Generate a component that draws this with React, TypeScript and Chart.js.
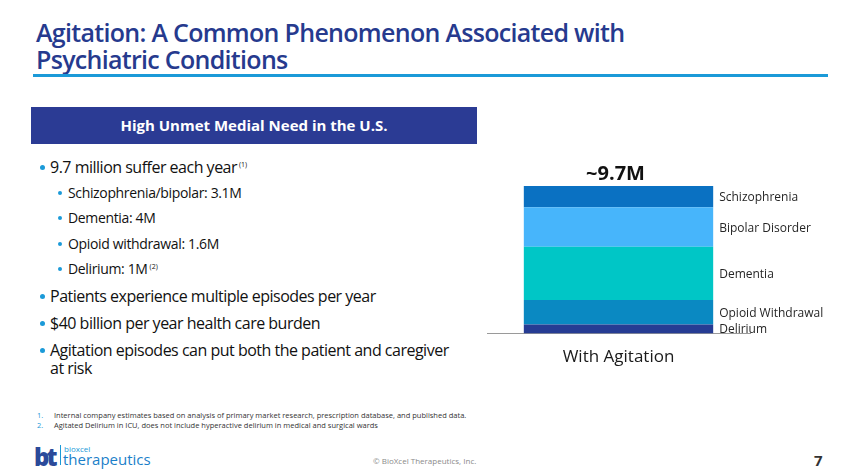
import React, { useEffect, useRef } from "react";
import { Chart, registerables } from "chart.js";

Chart.register(...registerables);

// ---- data ----
const categories = ["With Agitation"];
const seriesNames = ["Delirium", "Opioid Withdrawal", "Dementia", "Bipolar Disorder", "Schizophrenia"];
const delirium = [0.6];
const opioidWithdrawal = [1.6];
const dementia = [3.5];
const bipolarDisorder = [2.6];
const schizophrenia = [1.4];
const totalLabel = "~9.7M";
const yMax = 9.7;
const seriesColors = ["#263c93", "#0a89c2", "#00c6c6", "#47b5fb", "#0a71c2"];

const FONT = "'Open Sans', 'Noto Sans', sans-serif";

const segLabelPlugin = {
  id: "segLabels",
  afterDatasetsDraw(chart: any) {
    const ctx = chart.ctx;
    ctx.save();
    ctx.font = `12px ${FONT}`;
    ctx.fillStyle = "#262626";
    ctx.textAlign = "left";
    ctx.textBaseline = "middle";
    chart.data.datasets.forEach((ds: any, i: number) => {
      const el = chart.getDatasetMeta(i).data[0];
      if (!el) return;
      const p = el.getProps(["x", "y", "base", "width"], true);
      ctx.fillText(ds.label, p.x + p.width / 2 + 6, (p.y + p.base) / 2 + 1);
    });
    const top = chart.getDatasetMeta(chart.data.datasets.length - 1).data[0];
    if (top) {
      ctx.font = `bold 20px ${FONT}`;
      ctx.fillStyle = "#111";
      ctx.textAlign = "center";
      ctx.textBaseline = "alphabetic";
      ctx.fillText(totalLabel, top.x - 3, top.y - 6);
    }
    ctx.restore();
  },
};

function BarChart() {
  const ref = useRef<HTMLCanvasElement>(null);
  useEffect(() => {
    if (!ref.current) return;
    const values = [delirium, opioidWithdrawal, dementia, bipolarDisorder, schizophrenia];
    const chart = new Chart(ref.current, {
      type: "bar",
      data: {
        labels: categories,
        datasets: values.map((v, i) => ({
          label: seriesNames[i],
          data: v,
          backgroundColor: seriesColors[i],
          borderWidth: 0,
          barPercentage: 0.72,
          categoryPercentage: 1,
        })),
      },
      options: {
        animation: false,
        responsive: false,
        maintainAspectRatio: false,
        layout: { padding: { left: 17, right: 100, top: 36, bottom: 11 } },
        plugins: { legend: { display: false }, tooltip: { enabled: false } },
        scales: {
          x: {
            stacked: true,
            grid: { display: false },
            border: { display: true, color: "#9a9a9a", width: 1 },
            ticks: { color: "#1a1a1a", font: { family: FONT, size: 17 }, padding: 5 },
          },
          y: {
            stacked: true,
            display: false,
            min: 0,
            max: yMax,
          },
        },
      },
      plugins: [segLabelPlugin],
    });
    return () => chart.destroy();
  }, []);
  return (
    <canvas
      ref={ref}
      width={380}
      height={233}
      style={{ position: "absolute", left: 470, top: 150, width: 380, height: 233 }}
    />
  );
}

const dot = (size: number, left: number, top: number) => (
  <span
    style={{
      position: "absolute",
      left,
      top,
      width: size,
      height: size,
      borderRadius: "50%",
      background: "#1b9ad8",
    }}
  />
);

export default function App() {
  const main = { fontSize: 16, letterSpacing: -0.5, color: "#111" } as const;
  const sub = { fontSize: 14, letterSpacing: -0.35, color: "#111" } as const;
  const line = (top: number, left: number, style: any, text: React.ReactNode, dotSize: number, dotLeft: number) => (
    <div style={{ position: "absolute", top, left: 0, width: 480, height: 24 }}>
      {dot(dotSize, dotLeft, 10)}
      <div style={{ position: "absolute", left, top: 0, lineHeight: "24px", whiteSpace: "nowrap", ...style }}>{text}</div>
    </div>
  );
  const sup = (t: string) => (
    <sup style={{ fontSize: 7, verticalAlign: "top", position: "relative", top: -2, marginLeft: 2, letterSpacing: 0 }}>{t}</sup>
  );
  return (
    <div
      style={{
        position: "absolute",
        left: 0,
        top: 0,
        width: 850,
        height: 473,
        background: "#fff",
        overflow: "hidden",
        fontFamily: FONT,
      }}
    >
      <div
        style={{
          position: "absolute",
          left: 36,
          top: 19,
          color: "#263a8e",
          fontSize: 25,
          fontWeight: 600,
          lineHeight: "27px",
          letterSpacing: -0.7,
          whiteSpace: "nowrap",
        }}
      >
        Agitation: A Common Phenomenon Associated with
        <br />
        Psychiatric Conditions
      </div>
      <div style={{ position: "absolute", left: 33, top: 74, width: 795, height: 3, background: "#1b9ad8" }} />

      <div
        style={{
          position: "absolute",
          left: 31,
          top: 107,
          width: 446,
          height: 37,
          background: "#2b3b94",
          color: "#fff",
          fontWeight: 700,
          fontSize: 15,
          lineHeight: "37px",
          textAlign: "center",
        }}
      >
        High Unmet Medial Need in the U.S.
      </div>

      {line(155, 50, main, <>9.7 million suffer each year{sup("(1)")}</>, 5, 40)}
      {line(181, 68, sub, "Schizophrenia/bipolar: 3.1M", 4, 58)}
      {line(206, 68, sub, "Dementia: 4M", 4, 58)}
      {line(232, 68, sub, "Opioid withdrawal: 1.6M", 4, 58)}
      {line(257, 68, sub, <>Delirium: 1M{sup("(2)")}</>, 4, 58)}
      {line(284, 50, main, "Patients experience multiple episodes per year", 5, 40)}
      {line(311, 50, main, "$40 billion per year health care burden", 5, 40)}
      <div style={{ position: "absolute", top: 338, left: 0, width: 480 }}>
        {dot(5, 40, 10)}
        <div style={{ position: "absolute", left: 50, top: 0, lineHeight: "18px", paddingTop: 3, whiteSpace: "nowrap", ...main }}>
          Agitation episodes can put both the patient and caregiver
          <br />
          at risk
        </div>
      </div>

      <div style={{ position: "absolute", top: 411, left: 37, fontSize: 7.5, color: "#333", lineHeight: "9.5px" }}>
        <div><span style={{ color: "#1b9ad8", display: "inline-block", width: 17 }}>1.</span>Internal company estimates based on analysis of primary market research, prescription database, and published data.</div>
        <div><span style={{ color: "#1b9ad8", display: "inline-block", width: 17 }}>2.</span>Agitated Delirium in ICU, does not include hyperactive delirium in medical and surgical wards</div>
      </div>

      <div style={{ position: "absolute", left: 34, top: 444, height: 24, whiteSpace: "nowrap" }}>
        <span style={{ position: "absolute", left: 0, top: -4, fontSize: 24, fontWeight: 800, color: "#2b4a9a", letterSpacing: -3 }}>bt</span>
        <span style={{ position: "absolute", left: 26, top: 1, width: 1, height: 20, background: "#1b9ad8" }} />
        <span style={{ position: "absolute", left: 30, top: -1, fontSize: 8, color: "#1b9ad8" }}>bioxcel</span>
        <span style={{ position: "absolute", left: 29, top: 5, fontSize: 15, color: "#1b7fc9" }}>therapeutics</span>
      </div>

      <div style={{ position: "absolute", left: 373, top: 455, fontSize: 8, color: "#8a8a8a" }}>
        © BioXcel Therapeutics, Inc.
      </div>
      <div style={{ position: "absolute", left: 814, top: 450, fontSize: 15, fontWeight: 700, color: "#333" }}>7</div>

      <BarChart />
    </div>
  );
}
